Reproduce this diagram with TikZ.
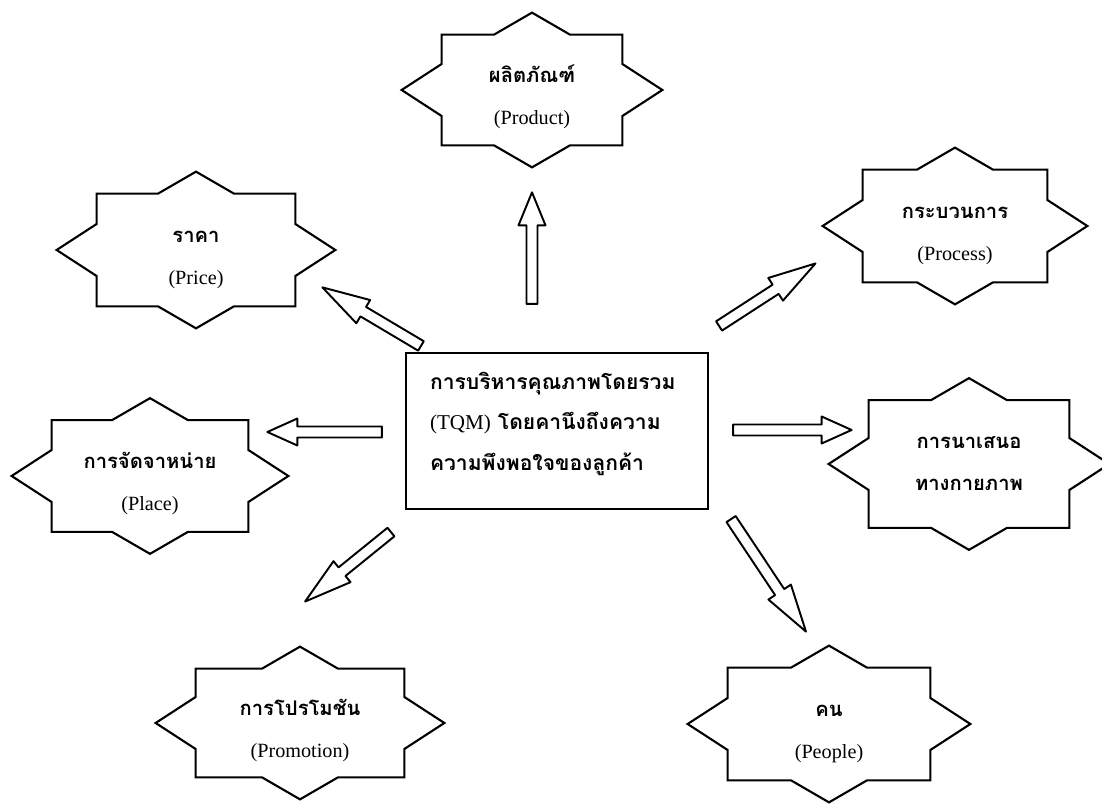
\documentclass[tikz,border=0pt]{standalone}
\usepackage{fontspec}
\setmainfont{Liberation Serif}
\newfontfamily\thaifont[Script=Thai]{Loma}
\usepackage{tikz}
\usetikzlibrary{calc}
\newcommand{\tht}[1]{{\thaifont\bfseries #1}}

\begin{document}
\begin{tikzpicture}[
                x = 0.2mm, y = -0.2mm,
                S/.style = {inner sep=0pt, align=center, font=\fontsize{11.5}{13}\selectfont},
                B/.style = {draw, line width=1.2pt, inner xsep=4.8mm, text width=50.8mm,
                            minimum height=31.2mm, align=left, font=\fontsize{12}{14}\selectfont},
                rim/.style = {line width=1.2pt, line join=miter},
                A/.default = 6mm,
                A/.style = {line width=1.1pt, line join=round,
                    to path={let \p1=(\tikztostart), \p2=(\tikztotarget),
                        \n1={atan2(\y2-\y1,\x2-\x1)}, \n2={veclen(\x2-\x1,\y2-\y1)} in
                        {[shift={(\p1)}, rotate=\n1]
                        (0pt,-1.1mm) -- ({\n2*1pt-#1},-1.1mm) -- ({\n2*1pt-#1},-2.7mm)
                        -- ({\n2*1pt},0pt) -- ({\n2*1pt-#1},2.7mm) -- ({\n2*1pt-#1},1.1mm)
                        -- (0pt,1.1mm) -- cycle}}}
                    ]
                \clip (0,0) rectangle (1102,804);
                \node (tqm) at (557,431) [B]
                    {\tht{การบริหารคุณภาพโดยรวม}\\[9pt]
                     (TQM) \tht{โดยคานึงถึงความ}\\[9pt]
                     \tht{ความพึงพอใจของลูกค้า}\rule[-11pt]{0pt}{11pt}};
                \begin{scope}[nodes=S]
                \node (prod)  at (532,90)  [minimum width=36mm, minimum height=22mm]
                    {\rule{0pt}{18pt}\tht{ผลิตภัณฑ์}\\[11pt](Product)};
                \node (price) at (196,250) [minimum width=39.6mm, minimum height=22.4mm]
                    {\rule{0pt}{18pt}\tht{ราคา}\\[11pt](Price)};
                \node (proc)  at (955,226) [minimum width=36.8mm, minimum height=22.4mm]
                    {\rule{0pt}{18pt}\tht{กระบวนการ}\\[11pt](Process)};
                \node (phys)  at (969,464) [minimum width=40mm, minimum height=25.4mm]
                    {\tht{การนาเสนอ}\\[11pt]\tht{ทางกายภาพ}};
                \node (place) at (150,476) [minimum width=39.2mm, minimum height=22.2mm]
                    {\rule{0pt}{18pt}\tht{การจัดจาหน่าย}\\[11pt](Place)};
                \node (promo) at (300,723) [minimum width=41.6mm, minimum height=21.6mm]
                    {\rule{0pt}{18pt}\tht{การโปรโมชัน}\\[11pt](Promotion)};
                \node (peop)  at (829,724) [minimum width=40.4mm, minimum height=22.4mm]
                    {\rule{0pt}{18pt}\tht{คน}\\[11pt](People)};
                \end{scope}
                % star outlines
                \foreach \s in {prod,price,proc,phys,place,promo,peop}
                    \draw[rim] (\s.north west) -- ([xshift=-7.6mm]\s.north)
                        -- ([yshift=4.4mm]\s.north) -- ([xshift=7.6mm]\s.north)
                        -- (\s.north east) -- ([yshift=5.2mm]\s.east)
                        -- ([xshift=8mm]\s.east) -- ([yshift=-5.2mm]\s.east)
                        -- (\s.south east) -- ([xshift=7.6mm]\s.south)
                        -- ([yshift=-4.4mm]\s.south) -- ([xshift=-7.6mm]\s.south)
                        -- (\s.south west) -- ([yshift=-5.2mm]\s.west)
                        -- ([xshift=-8mm]\s.west) -- ([yshift=5.2mm]\s.west) -- cycle;
                \draw[A=6.6mm] ($(tqm.north)+(-25,-48)$) to ($(prod.south)+(0,47)$);
                \draw[A=9.5mm] ($(tqm.north west)+(16,-6)$) to ($(price.south east)+(27,-19)$);
                \draw[A=9.5mm] ($(tqm.north east)+(10,-26)$) to ($(proc.south west)+(-47,-19)$);
                \draw[A] ($(tqm.east)+(24,-1)$) to ($(phys.west)+(-17,-34)$);
                \draw[A] ($(tqm.west)+(-23,1)$) to ($(place.east)+(19,-44)$);
                \draw[A=9.5mm] ($(tqm.south west)+(-14,22)$) to ($(promo.north)+(5,-67)$);
                \draw[A=9.5mm] ($(tqm.south east)+(22,9)$) to ($(peop.north)+(-23,-36)$);
            \end{tikzpicture}
\end{document}
